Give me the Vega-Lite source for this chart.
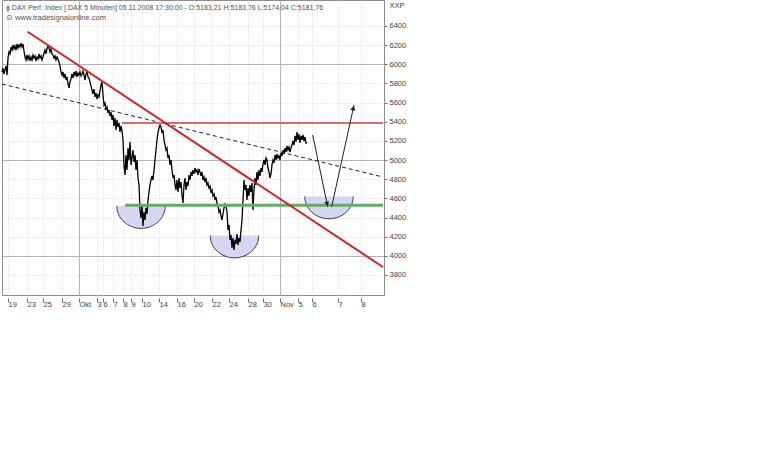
{
  "$schema": "https://vega.github.io/schema/vega-lite/v6.json",
  "autosize": {"type": "none"},
  "width": 382,
  "height": 295,
  "padding": {"left": 2, "top": 0, "right": 386, "bottom": 155},
  "background": "white",
  "config": {
    "view": {"stroke": "#8c8c8c", "strokeWidth": 1},
    "font": "Liberation Sans"
  },
  "title": {
    "text": "ϕ DAX Perf. Index [.DAX  5 Minuten] 05.11.2008 17:30:00 - O:5183,21 H:5183,76 L:5174,04 C:5181,76",
    "subtitle": "⊙ www.tradesignalonline.com",
    "anchor": "start",
    "frame": "group",
    "orient": "top",
    "offset": -21,
    "dx": 4,
    "fontSize": 7,
    "fontWeight": "normal",
    "color": "#505050",
    "subtitleFontSize": 7.5,
    "subtitleColor": "#505050",
    "subtitlePadding": 3
  },
  "encoding": {
    "x": {
      "field": "h",
      "type": "quantitative",
      "scale": {"domain": [-6, 376], "nice": false, "zero": false},
      "axis": {
        "orient": "bottom",
        "title": null,
        "values": [0, 19, 35, 54, 71, 89, 95, 105, 115, 123, 134, 151, 169, 186, 204, 221, 240, 255, 272, 290, 304, 330, 353],
        "labelExpr": "['19','23','25','29','Okt','3','6','7','8','9','10','14','16','20','22','24','28','30','Nov','5','6','7','8'][indexof([0,19,35,54,71,89,95,105,115,123,134,151,169,186,204,221,240,255,272,290,304,330,353], datum.value)]",
        "domain": false,
        "offset": 3,
        "tickSize": 4,
        "tickColor": "#707070",
        "labelAlign": "left",
        "labelBaseline": "top",
        "labelDx": 2,
        "labelPadding": -2,
        "labelFontSize": 7.5,
        "labelColor": "#404040",
        "labelFlush": false,
        "labelOverlap": false,
        "grid": true,
        "gridColor": {"condition": {"test": "datum.value === 71 || datum.value === 272", "value": "#b4b4b4"}, "value": "#d6d6d6"},
        "gridDash": {"condition": {"test": "datum.value === 71 || datum.value === 272", "value": []}, "value": [1, 2]}
      }
    },
    "y": {
      "field": "p",
      "type": "quantitative",
      "scale": {"domain": [3591, 6671.5], "nice": false, "zero": false},
      "axis": {
        "orient": "right",
        "title": "XXP",
        "titleAngle": 0,
        "titleAlign": "left",
        "titleBaseline": "middle",
        "titleX": 5,
        "titleY": 5,
        "titleFontSize": 7.5,
        "titleFontWeight": "normal",
        "titleColor": "#404040",
        "values": [3800, 4000, 4200, 4400, 4600, 4800, 5000, 5200, 5400, 5600, 5800, 6000, 6200, 6400],
        "format": "d",
        "domain": false,
        "tickSize": 3,
        "tickColor": "#707070",
        "labelPadding": 2,
        "labelFontSize": 7.5,
        "labelColor": "#404040",
        "labelAlign": "left",
        "grid": true,
        "gridColor": {"condition": {"test": "datum.value % 1000 === 0", "value": "#b4b4b4"}, "value": "#d6d6d6"},
        "gridDash": {"condition": {"test": "datum.value % 1000 === 0", "value": []}, "value": [1, 2]}
      }
    }
  },
  "layer": [
    {
      "data": {"values": [
        {"h": 133, "p": 4520},
        {"h": 226.5, "p": 4212},
        {"h": 321, "p": 4620}
      ]},
      "mark": {"type": "point", "shape": "M -1 0 A 1 0.92 0 0 0 1 0", "size": 2350, "filled": true, "fill": "#d6d6f2", "stroke": "#3c3c50", "strokeWidth": 1, "opacity": 1}
    },
    {
      "data": {"values": [
        {"h":-6,"p":5920},{"h":-5,"p":5961},{"h":-4,"p":5899},{"h":-3,"p":5941},{"h":-2,"p":5982},{"h":-1,"p":5888},
        {"h":0,"p":6066},{"h":1,"p":6129},{"h":2,"p":6108},{"h":3,"p":6181},{"h":4,"p":6149},{"h":5,"p":6202},{"h":6,"p":6160},{"h":7,"p":6191},{"h":8,"p":6149},{"h":9,"p":6212},
        {"h":10,"p":6170},{"h":11,"p":6202},{"h":12,"p":6181},{"h":13,"p":6222},{"h":14,"p":6181},{"h":15,"p":6212},{"h":16,"p":6139},{"h":17,"p":6076},{"h":18,"p":6045},{"h":19,"p":6097},
        {"h":20,"p":6055},{"h":21,"p":6087},{"h":22,"p":6035},{"h":23,"p":6076},{"h":24,"p":6045},{"h":25,"p":6097},{"h":26,"p":6066},{"h":27,"p":6087},{"h":28,"p":6035},{"h":29,"p":6076},
        {"h":30,"p":6055},{"h":31,"p":6108},{"h":32,"p":6066},{"h":33,"p":6087},{"h":34,"p":6045},{"h":35,"p":6076},{"h":36,"p":6118},{"h":37,"p":6149},{"h":38,"p":6108},{"h":39,"p":6160},
        {"h":40,"p":6191},{"h":41,"p":6170},{"h":42,"p":6129},{"h":43,"p":6160},{"h":44,"p":6108},{"h":45,"p":6097},{"h":46,"p":6066},{"h":47,"p":6087},{"h":48,"p":6045},{"h":49,"p":6076},
        {"h":50,"p":6055},{"h":51,"p":6024},{"h":52,"p":5982},{"h":53,"p":5920},{"h":54,"p":5888},{"h":55,"p":5920},{"h":56,"p":5857},{"h":57,"p":5899},{"h":58,"p":5836},{"h":59,"p":5868},
        {"h":60,"p":5794},{"h":61,"p":5753},{"h":62,"p":5815},{"h":63,"p":5847},{"h":64,"p":5899},{"h":65,"p":5857},{"h":66,"p":5920},{"h":67,"p":5878},{"h":68,"p":5930},{"h":69,"p":5868},
        {"h":70,"p":5909},{"h":71,"p":5888},{"h":72,"p":5920},{"h":73,"p":5878},{"h":74,"p":5899},{"h":75,"p":5930},{"h":76,"p":5888},{"h":77,"p":5836},{"h":78,"p":5899},{"h":79,"p":5920},
        {"h":80,"p":5868},{"h":81,"p":5857},{"h":82,"p":5815},{"h":83,"p":5774},{"h":84,"p":5732},{"h":85,"p":5690},{"h":86,"p":5742},{"h":87,"p":5659},{"h":88,"p":5700},{"h":89,"p":5638},
        {"h":90,"p":5680},{"h":91,"p":5659},{"h":92,"p":5721},{"h":93,"p":5784},{"h":94,"p":5815},{"h":95,"p":5680},{"h":96,"p":5575},{"h":97,"p":5596},{"h":98,"p":5533},{"h":99,"p":5554},
        {"h":100,"p":5492},{"h":101,"p":5523},{"h":102,"p":5460},{"h":103,"p":5502},{"h":104,"p":5419},{"h":105,"p":5471},{"h":106,"p":5356},{"h":107,"p":5440},{"h":108,"p":5314},{"h":109,"p":5419},
        {"h":110,"p":5345},{"h":111,"p":5387},{"h":112,"p":5293},{"h":113,"p":5356},{"h":114,"p":5304},{"h":115,"p":5210},{"h":116,"p":4949},{"h":117,"p":4844},{"h":118,"p":5053},{"h":119,"p":4896},
        {"h":120,"p":5126},{"h":121,"p":5001},{"h":122,"p":5189},{"h":123,"p":4949},{"h":124,"p":5022},{"h":125,"p":5105},{"h":126,"p":4980},{"h":127,"p":5053},{"h":128,"p":4896},{"h":129,"p":5001},
        {"h":130,"p":4813},{"h":131,"p":4740},{"h":132,"p":4479},{"h":133,"p":4395},{"h":134,"p":4531},{"h":135,"p":4312},{"h":136,"p":4458},{"h":137,"p":4374},{"h":138,"p":4500},{"h":139,"p":4437},
        {"h":140,"p":4583},{"h":141,"p":4667},{"h":142,"p":4740},{"h":143,"p":4792},{"h":144,"p":4834},{"h":145,"p":4792},{"h":146,"p":4896},{"h":147,"p":5001},{"h":148,"p":5105},{"h":149,"p":5210},
        {"h":150,"p":5293},{"h":151,"p":5335},{"h":152,"p":5366},{"h":153,"p":5345},{"h":154,"p":5283},{"h":155,"p":5314},{"h":156,"p":5210},{"h":157,"p":5157},{"h":158,"p":5105},{"h":159,"p":5126},
        {"h":160,"p":5022},{"h":161,"p":5053},{"h":162,"p":4949},{"h":163,"p":5001},{"h":164,"p":4896},{"h":165,"p":4813},{"h":166,"p":4844},{"h":167,"p":4740},{"h":168,"p":4688},{"h":169,"p":4792},
        {"h":170,"p":4667},{"h":171,"p":4813},{"h":172,"p":4708},{"h":173,"p":4771},{"h":174,"p":4635},{"h":175,"p":4552},{"h":176,"p":4740},{"h":177,"p":4813},{"h":178,"p":4688},{"h":179,"p":4771},
        {"h":180,"p":4729},{"h":181,"p":4844},{"h":182,"p":4792},{"h":183,"p":4876},{"h":184,"p":4834},{"h":185,"p":4896},{"h":186,"p":4855},{"h":187,"p":4917},{"h":188,"p":4876},{"h":189,"p":4896},
        {"h":190,"p":4844},{"h":191,"p":4907},{"h":192,"p":4876},{"h":193,"p":4834},{"h":194,"p":4876},{"h":195,"p":4792},{"h":196,"p":4823},{"h":197,"p":4771},{"h":198,"p":4813},{"h":199,"p":4740},
        {"h":200,"p":4761},{"h":201,"p":4708},{"h":202,"p":4729},{"h":203,"p":4667},{"h":204,"p":4688},{"h":205,"p":4625},{"h":206,"p":4646},{"h":207,"p":4583},{"h":208,"p":4614},{"h":209,"p":4552},
        {"h":210,"p":4520},{"h":211,"p":4458},{"h":212,"p":4479},{"h":213,"p":4416},{"h":214,"p":4374},{"h":215,"p":4437},{"h":216,"p":4500},{"h":217,"p":4541},{"h":218,"p":4520},{"h":219,"p":4458},
        {"h":220,"p":4270},{"h":221,"p":4322},{"h":222,"p":4166},{"h":223,"p":4218},{"h":224,"p":4082},{"h":225,"p":4186},{"h":226,"p":4061},{"h":227,"p":4166},{"h":228,"p":4124},{"h":229,"p":4228},
        {"h":230,"p":4113},{"h":231,"p":4186},{"h":232,"p":4145},{"h":233,"p":4270},{"h":234,"p":4374},{"h":235,"p":4583},{"h":236,"p":4792},{"h":237,"p":4688},{"h":238,"p":4740},{"h":239,"p":4583},
        {"h":240,"p":4708},{"h":241,"p":4625},{"h":242,"p":4740},{"h":243,"p":4667},{"h":244,"p":4761},{"h":245,"p":4479},{"h":246,"p":4688},{"h":247,"p":4813},{"h":248,"p":4740},{"h":249,"p":4876},
        {"h":250,"p":4792},{"h":251,"p":4896},{"h":252,"p":4834},{"h":253,"p":4917},{"h":254,"p":4876},{"h":255,"p":4959},{"h":256,"p":5001},{"h":257,"p":4949},{"h":258,"p":5022},{"h":259,"p":5001},
        {"h":260,"p":4917},{"h":261,"p":4876},{"h":262,"p":4813},{"h":263,"p":4855},{"h":264,"p":4949},{"h":265,"p":5001},{"h":266,"p":4969},{"h":267,"p":5053},{"h":268,"p":5001},{"h":269,"p":5063},
        {"h":270,"p":5022},{"h":271,"p":5043},{"h":272,"p":5001},{"h":273,"p":5074},{"h":274,"p":5043},{"h":275,"p":5105},{"h":276,"p":5063},{"h":277,"p":5126},{"h":278,"p":5084},{"h":279,"p":5147},
        {"h":280,"p":5105},{"h":281,"p":5137},{"h":282,"p":5084},{"h":283,"p":5126},{"h":284,"p":5157},{"h":285,"p":5199},{"h":286,"p":5157},{"h":287,"p":5252},{"h":288,"p":5189},{"h":289,"p":5293},
        {"h":290,"p":5210},{"h":291,"p":5272},{"h":292,"p":5178},{"h":293,"p":5252},{"h":294,"p":5210},{"h":295,"p":5262},{"h":296,"p":5199},{"h":297,"p":5241},{"h":298,"p":5178},{"h":299,"p":5182}
      ]},
      "mark": {"type": "line", "color": "black", "strokeWidth": 1.3, "interpolate": "linear"}
    },
    {
      "data": {"values": [{"h": -6, "p": 5794, "h2": 375, "p2": 4823}]},
      "mark": {"type": "rule", "color": "#202020", "strokeWidth": 1, "strokeDash": [4, 3]},
      "encoding": {"x2": {"field": "h2"}, "y2": {"field": "p2"}}
    },
    {
      "data": {"values": [{"h": 114, "p": 5386, "h2": 375}]},
      "mark": {"type": "rule", "color": "#e06868", "strokeWidth": 2},
      "encoding": {"x2": {"field": "h2"}}
    },
    {
      "data": {"values": [{"h": 117, "p": 4528, "h2": 375}]},
      "mark": {"type": "rule", "color": "#62ac62", "strokeWidth": 3},
      "encoding": {"x2": {"field": "h2"}}
    },
    {
      "data": {"values": [{"h": 19.7, "p": 6340, "h2": 375, "p2": 3883}]},
      "mark": {"type": "rule", "color": "#d02424", "strokeWidth": 2},
      "encoding": {"x2": {"field": "h2"}, "y2": {"field": "p2"}}
    },
    {
      "data": {"values": [
        {"h": 304.7, "p": 5262, "h2": 319.7, "p2": 4513},
        {"h": 323.7, "p": 4513, "h2": 346, "p2": 5575}
      ]},
      "mark": {"type": "rule", "color": "#202020", "strokeWidth": 1},
      "encoding": {"x2": {"field": "h2"}, "y2": {"field": "p2"}}
    },
    {
      "data": {"values": [{"h": 345.3, "p": 5544}]},
      "mark": {"type": "point", "shape": "triangle-up", "angle": 12, "size": 28, "filled": true, "color": "#202020", "opacity": 1}
    },
    {
      "data": {"values": [{"h": 319.1, "p": 4543}]},
      "mark": {"type": "point", "shape": "triangle-down", "angle": 348, "size": 24, "filled": true, "color": "#202020", "opacity": 1}
    }
  ]
}
